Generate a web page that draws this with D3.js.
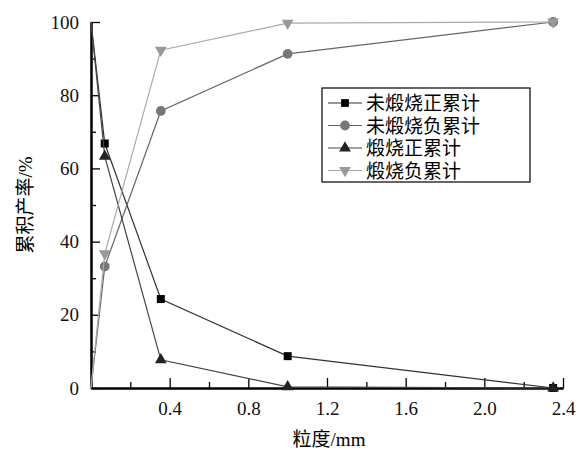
<!DOCTYPE html><html><head><meta charset="utf-8"><script src="https://cdn.jsdelivr.net/npm/d3@7"></script>
<style>body{margin:0;background:#fff}text{font-family:"Liberation Serif","Noto Sans CJK SC",serif}</style></head><body><svg id="c" width="579" height="455"></svg>
<script>
const sizes=[0,0.07,0.355,1.0,2.35];
const seriesNames=["未煅烧正累计","未煅烧负累计","煅烧正累计","煅烧负累计"];
const unPos=[100,66.8,24.3,8.7,0];
const unNeg=[0,33.2,75.7,91.3,100];
const calPos=[100,63.3,7.7,0.3,0];
const calNeg=[0,36.7,92.3,99.7,100];
const xTicks=[0.4,0.8,1.2,1.6,2.0,2.4];
const yTicks=[0,20,40,60,80,100];
const series=[
 {name:seriesNames[0],v:unPos,sym:d3.symbolSquare,col:"#000",line:"#333",rot:0},
 {name:seriesNames[1],v:unNeg,sym:d3.symbolCircle,col:"#777",line:"#666",rot:0},
 {name:seriesNames[2],v:calPos,sym:d3.symbolTriangle,col:"#222",line:"#444",rot:0},
 {name:seriesNames[3],v:calNeg,sym:d3.symbolTriangle,col:"#999",line:"#aaa",rot:180}];
const svg=d3.select("#c");
const x=d3.scaleLinear().domain([0,2.4]).range([91,563]);
const y=d3.scaleLinear().domain([0,100]).range([388,22]);
const g=svg.append("g");
g.append("g").attr("transform","translate(0,388)").call(d3.axisBottom(x).tickValues([0.2,0.6,1.0,1.4,1.8,2.2]).tickSize(-6).tickSizeOuter(0).tickFormat(""));
g.append("g").attr("transform","translate(0,388)").call(d3.axisBottom(x).tickValues(xTicks).tickSize(-10).tickSizeOuter(0).tickPadding(14).tickFormat(d3.format(".1f")));
g.append("g").attr("transform","translate(91,0)").call(d3.axisLeft(y).tickValues(d3.range(10,100,20)).tickSize(-5).tickSizeOuter(0).tickFormat(""));
g.append("g").attr("transform","translate(91,0)").call(d3.axisLeft(y).tickValues(yTicks).tickSize(-9).tickSizeOuter(0).tickPadding(12));
g.selectAll(".domain").attr("stroke","#000").attr("stroke-width",2);
g.selectAll(".tick line").attr("stroke","#000").attr("stroke-width",1.3);
g.selectAll(".tick text").attr("font-size",19).attr("fill","#111");
const line=d3.line().x((d,i)=>x(sizes[i])).y(d=>y(d));
series.forEach(s=>{
 svg.append("path").datum(s.v).attr("d",line).attr("fill","none").attr("stroke",s.line).attr("stroke-width",1.2);
 svg.selectAll(null).data(s.v.slice(1)).enter().append("path").attr("d",d3.symbol(s.sym,s.sym===d3.symbolCircle?75:s.sym===d3.symbolSquare?64:60))
  .attr("transform",(d,i)=>`translate(${x(sizes[i+1])},${y(d)}) rotate(${s.rot})`).attr("fill",s.col);
});
const lg=svg.append("g");
lg.append("rect").attr("x",322).attr("y",88).attr("width",208).attr("height",94).attr("fill","#fff").attr("stroke","#000").attr("stroke-width",1.2);
series.forEach((s,i)=>{
 const yy=103+i*22.5;
 lg.append("line").attr("x1",328).attr("x2",362).attr("y1",yy).attr("y2",yy).attr("stroke",s.line).attr("stroke-width",1.2);
 lg.append("path").attr("d",d3.symbol(s.sym,s.sym===d3.symbolCircle?75:60)).attr("transform",`translate(345,${yy}) rotate(${s.rot})`).attr("fill",s.col);
 lg.append("text").attr("x",366).attr("y",yy+7).attr("font-size",19).text(s.name);
});
svg.append("text").attr("x",329).attr("y",446).attr("text-anchor","middle").attr("font-size",19).text("粒度/mm");
svg.append("text").attr("transform","translate(32,205) rotate(-90)").attr("text-anchor","middle").attr("font-size",19).text("累积产率/%");
</script></body></html>
